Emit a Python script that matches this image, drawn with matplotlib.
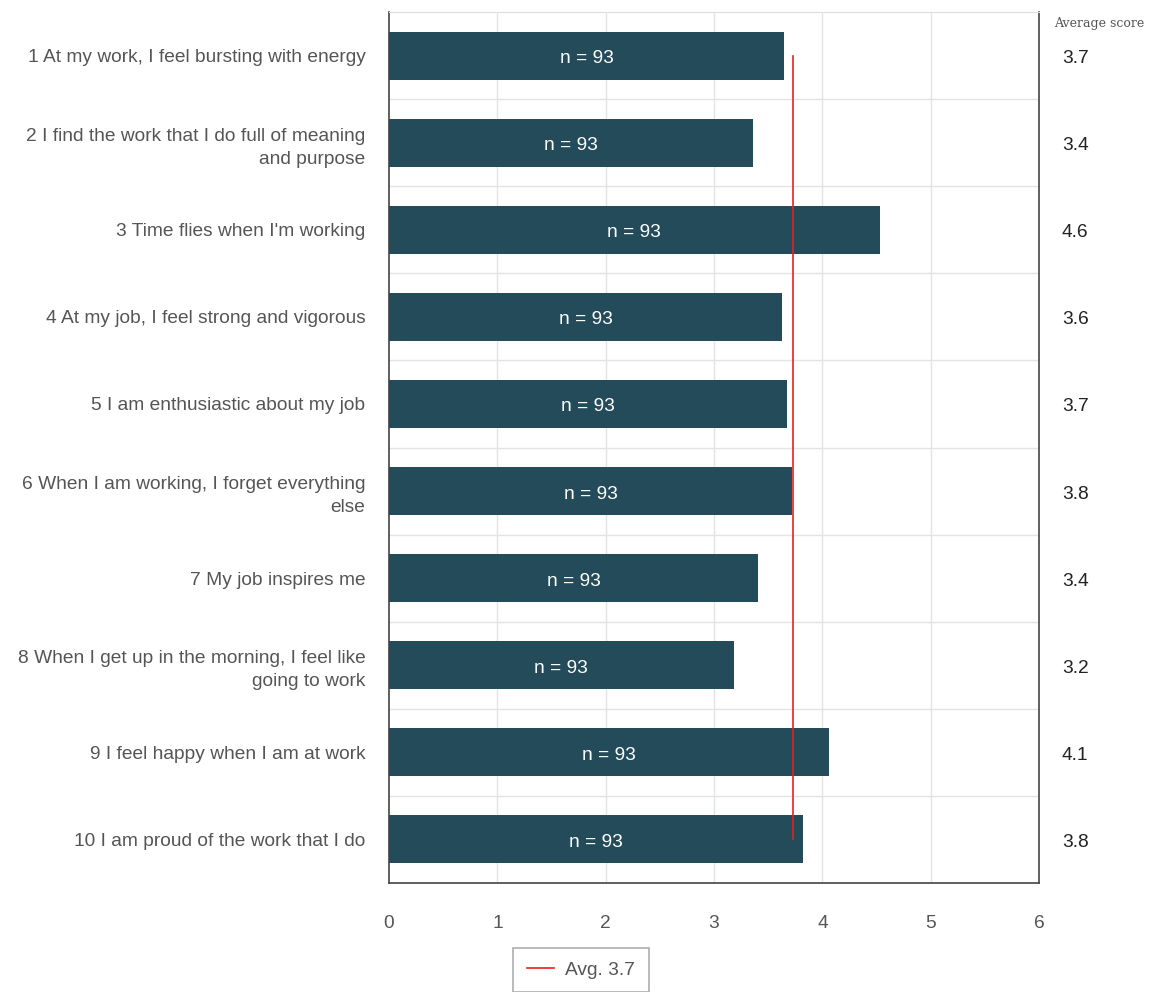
import matplotlib
matplotlib.use('Agg')
import matplotlib.pyplot as plt
import matplotlib.transforms as mtransforms
from matplotlib.lines import Line2D
import numpy as np

plt.rcParams['font.family'] = ['Liberation Sans', 'DejaVu Sans']

# data
labels = [
    "1 At my work, I feel bursting with energy",
    "2 I find the work that I do full of meaning\nand purpose",
    "3 Time flies when I'm working",
    "4 At my job, I feel strong and vigorous",
    "5 I am enthusiastic about my job",
    "6 When I am working, I forget everything\nelse",
    "7 My job inspires me",
    "8 When I get up in the morning, I feel like\ngoing to work",
    "9 I feel happy when I am at work",
    "10 I am proud of the work that I do",
]
scores = [3.65, 3.36, 4.53, 3.63, 3.67, 3.72, 3.41, 3.18, 4.06, 3.82]
score_labels = ["3.7", "3.4", "4.6", "3.6", "3.7", "3.8", "3.4", "3.2", "4.1", "3.8"]
n_counts = [93] * 10
avg = 3.73
avg_label = "Avg. 3.7"

bar_color = '#244b5a'
text_gray = '#555555'
fs = 13.8

fig = plt.figure(figsize=(11.5, 9.92), dpi=100)
ax = fig.add_axes([389 / 1150, 1 - 883 / 992, 650 / 1150, 871 / 992])
# texts sit a few pixels below the bar centres in the original
down = mtransforms.ScaledTranslation(0, -3 / 100, fig.dpi_scale_trans)

y = np.arange(len(labels))
ax.barh(y, scores, height=0.55, color=bar_color, zorder=3)
for yi, s, n in zip(y, scores, n_counts):
    ax.text(s / 2, yi, f"n = {n}", color='white', ha='center', va='center',
            fontsize=fs, zorder=4, transform=ax.transData + down)

# average line spans first to last bar centre
ax.plot([avg, avg], [y[0], y[-1]], color='#e8211d', lw=1.2, zorder=5)

ax.set_xlim(0, 6)
ax.set_ylim(len(labels) - 0.5, -0.5)
ax.set_xticks(range(7))
ax.set_yticks(y)
ax.set_yticklabels(labels, fontsize=fs, color=text_gray, linespacing=1.45)
for t in ax.get_yticklabels():
    t.set_transform(t.get_transform() + down)
ax.tick_params(axis='y', length=0, pad=17)
ax.tick_params(axis='x', length=0, pad=23, labelsize=fs, labelcolor=text_gray)

# grid
for xv in range(1, 6):
    ax.axvline(xv, color='#e3e3e3', lw=1, zorder=1)
for yv in np.arange(0.5, len(labels) - 0.5, 1):
    ax.axhline(yv, color='#e3e3e3', lw=1, zorder=1)

for side in ['left', 'bottom', 'right']:
    ax.spines[side].set_color('#444444')
    ax.spines[side].set_linewidth(1.2)
ax.spines['top'].set_color('#dddddd')

# right column of averages
fig.text(1099 / 1150, 1 - 24 / 992, "Average score", family='DejaVu Serif',
         fontsize=9, color=text_gray, ha='center', va='center')
for yi, lab in zip(y, score_labels):
    ax.text(1.0 + 23 / 650, yi, lab, transform=ax.get_yaxis_transform() + down,
            fontsize=fs, color='#222222', ha='left', va='center')

handle = Line2D([], [], color='#e8211d', lw=1.2)
leg = fig.legend([handle], [avg_label], loc='upper center',
                 bbox_to_anchor=(581 / 1150, 1 - 948 / 992), fontsize=fs,
                 frameon=True, fancybox=False, handlelength=1.4,
                 handletextpad=0.6, borderpad=0.7, borderaxespad=0)
leg.get_frame().set_edgecolor('#999999')
leg.get_frame().set_linewidth(1.2)
for t in leg.get_texts():
    t.set_color(text_gray)

fig.savefig('out.png', dpi=100)
